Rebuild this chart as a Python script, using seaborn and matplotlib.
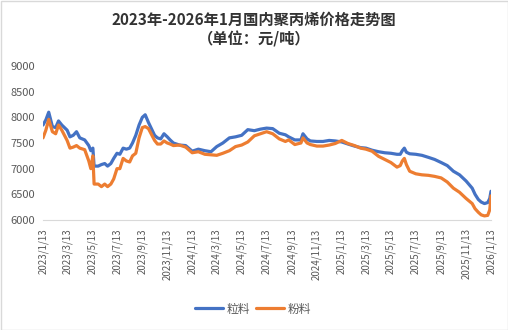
import matplotlib
matplotlib.use("Agg")
import matplotlib.pyplot as plt
from matplotlib.patches import Rectangle
import seaborn as sns
import pandas as pd

dates = [
    "2023-01-13", "2023-01-20", "2023-01-27", "2023-02-05", "2023-02-13", "2023-02-20", "2023-02-28",
    "2023-03-13", "2023-03-20", "2023-03-28", "2023-04-05", "2023-04-13", "2023-04-25", "2023-05-05",
    "2023-05-10", "2023-05-15", "2023-05-18", "2023-05-28", "2023-06-05", "2023-06-13", "2023-06-20",
    "2023-06-28", "2023-07-05", "2023-07-13", "2023-07-20", "2023-07-28", "2023-08-05", "2023-08-13",
    "2023-08-20", "2023-08-28", "2023-09-05", "2023-09-13", "2023-09-20", "2023-09-28", "2023-10-13",
    "2023-10-20", "2023-10-28", "2023-11-05", "2023-11-13", "2023-11-20", "2023-11-28", "2023-12-13",
    "2023-12-28",
    "2024-01-13", "2024-01-28", "2024-02-13", "2024-02-28", "2024-03-13", "2024-03-28", "2024-04-13",
    "2024-04-28", "2024-05-13", "2024-05-28", "2024-06-13", "2024-06-28", "2024-07-13", "2024-07-28",
    "2024-08-13", "2024-08-28", "2024-09-05", "2024-09-20", "2024-10-05", "2024-10-10", "2024-10-20",
    "2024-10-28", "2024-11-13", "2024-11-28", "2024-12-13", "2024-12-28",
    "2025-01-13", "2025-01-28", "2025-02-13", "2025-02-28", "2025-03-13", "2025-03-28", "2025-04-13",
    "2025-04-28", "2025-05-13", "2025-05-28", "2025-06-05", "2025-06-10", "2025-06-15", "2025-06-20",
    "2025-06-28", "2025-07-13", "2025-07-28", "2025-08-13", "2025-08-28", "2025-09-13", "2025-09-28",
    "2025-10-13", "2025-10-28", "2025-11-13", "2025-11-28", "2025-12-05", "2025-12-13", "2025-12-20",
    "2025-12-28", "2026-01-05", "2026-01-10", "2026-01-13",
]

pellet = [  # 粒料
    7850, 7950, 8100, 7820, 7800, 7930, 7850,
    7750, 7620, 7650, 7720, 7600, 7560, 7450,
    7350, 7400, 7050, 7050, 7080, 7100, 7050,
    7100, 7200, 7300, 7280, 7400, 7380, 7400,
    7500, 7650, 7850, 8000, 8050, 7900, 7650,
    7600, 7580, 7680, 7620, 7560, 7500, 7460,
    7450,
    7340, 7380, 7350, 7330, 7430, 7500, 7600,
    7620, 7650, 7760, 7740, 7770, 7790, 7780,
    7690, 7660, 7620, 7560, 7560, 7680, 7580,
    7540, 7530, 7530, 7550, 7540,
    7520, 7480, 7440, 7410, 7400, 7360, 7330,
    7310, 7300, 7280, 7280, 7350, 7400, 7320,
    7290, 7280, 7260, 7220, 7180, 7120, 7060,
    6950, 6880, 6760, 6620, 6500, 6400, 6350,
    6320, 6340, 6420, 6560,
]

powder = [  # 粉料
    7600, 7750, 7960, 7720, 7680, 7850, 7750,
    7550, 7400, 7420, 7450, 7400, 7370, 7150,
    7000, 7250, 6700, 6700, 6650, 6700, 6650,
    6700, 6800, 7000, 7000, 7200, 7150, 7130,
    7250, 7300, 7600, 7800, 7820, 7780, 7550,
    7480, 7480, 7540, 7500, 7480, 7450, 7460,
    7420,
    7310, 7330, 7280, 7270, 7260, 7300, 7350,
    7430, 7460, 7520, 7640, 7680, 7720, 7680,
    7580, 7530, 7560, 7470, 7500, 7600, 7500,
    7470, 7440, 7440, 7460, 7490,
    7550, 7490, 7450, 7400, 7380, 7340, 7240,
    7180, 7120, 7030, 7060, 7150, 7200, 7080,
    6950, 6900, 6880, 6870, 6850, 6820, 6740,
    6620, 6540, 6420, 6320, 6220, 6150, 6100,
    6080, 6090, 6200, 6470,
]

series_names = ["粒料", "粉料"]
tick_dates = pd.date_range("2023-01-01", "2026-01-01", freq="2MS") + pd.Timedelta(days=12)
yticks = [6000, 6500, 7000, 7500, 8000, 8500, 9000]

df = pd.concat([
    pd.DataFrame({"date": pd.to_datetime(dates), "price": pellet, "type": series_names[0]}),
    pd.DataFrame({"date": pd.to_datetime(dates), "price": powder, "type": series_names[1]}),
])

sns.set_style("white")
plt.rcParams["font.family"] = ["Noto Sans CJK SC", "DejaVu Sans"]

W, H = 508, 330
fig = plt.figure(figsize=(W / 100, H / 100), dpi=100)
ax = fig.add_axes([43 / W, 1 - 220 / H, (491 - 43) / W, (220 - 66) / H])

sns.lineplot(data=df, x="date", y="price", hue="type", palette=["#4472C4", "#ED7D31"],
             linewidth=2.3, ax=ax, legend=False)

ax.set_xlim(pd.Timestamp("2023-01-13"), pd.Timestamp("2026-01-13"))
ax.set_ylim(6000, 9000)
ax.set_yticks(yticks)
ax.set_yticklabels([str(v) for v in yticks], fontsize=8, color="#595959")
ax.set_xticks(list(tick_dates))
ax.set_xticklabels([f"{d.year}/{d.month}/{d.day}" for d in tick_dates], rotation=90,
                   fontsize=7, color="#595959")
ax.tick_params(axis="x", length=4, width=0.8, color="#D9D9D9", pad=2)
ax.tick_params(axis="y", length=0, pad=6)
ax.set_xlabel("")
ax.set_ylabel("")
for s in ["left", "top", "right"]:
    ax.spines[s].set_visible(False)
ax.spines["bottom"].set_color("#D9D9D9")
ax.spines["bottom"].set_linewidth(0.8)
ax.grid(False)

fig.text(254 / W, 1 - 20 / H, "2023年-2026年1月国内聚丙烯价格走势图", ha="center", va="center",
         fontsize=11, fontweight="heavy", color="#333333")
fig.text(254 / W, 1 - 39 / H, "（单位：元/吨）", ha="center", va="center",
         fontsize=11, fontweight="heavy", color="#333333")

handles = [plt.Line2D([], [], color="#4472C4", lw=2.3), plt.Line2D([], [], color="#ED7D31", lw=2.3)]
fig.legend(handles, series_names, loc="center", bbox_to_anchor=(253 / W, 1 - 309 / H), ncol=2,
           frameon=False, fontsize=8.5, handlelength=2.4, handletextpad=0.3, columnspacing=0.5,
           labelcolor="#595959")

fig.patches.append(Rectangle((0.5 / W, 0.5 / H), 1 - 1 / W, 1 - 1 / H, transform=fig.transFigure,
                             fill=False, edgecolor="#D9D9D9", linewidth=1))

fig.savefig("out.png", dpi=100)
